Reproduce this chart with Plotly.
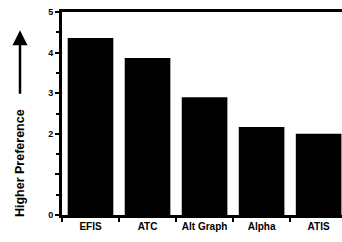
import plotly.graph_objects as go

categories = ["EFIS", "ATC", "Alt Graph", "Alpha", "ATIS"]
preference = [4.36, 3.87, 2.9, 2.17, 2.0]
ytick_vals = [0, 1, 2, 3, 4, 5]
ytick_text = ["0", "", "2", "3", "4", "5"]

fig = go.Figure(go.Bar(x=categories, y=preference, marker_color="black",
                       marker_line_width=0, width=0.8))

fig.update_layout(
    width=342, height=242,
    margin=dict(l=62, r=0, t=12, b=27, pad=0, autoexpand=False),
    plot_bgcolor="white", paper_bgcolor="white",
    showlegend=False,
    font=dict(family="Liberation Sans, Arial", color="black"),
)
fig.update_xaxes(
    range=[-0.5, 4.41], showline=True, linecolor="black", linewidth=3,
    mirror=True, ticks="outside", tickson="boundaries", ticklen=4,
    tickwidth=2, tickcolor="black", automargin=False,
    tickfont=dict(size=10, family="Liberation Sans, Arial", weight="bold"),
    showgrid=False, gridcolor="white",
)
fig.update_yaxes(
    range=[0, 5], showline=True, linecolor="black", linewidth=3,
    tickvals=ytick_vals, ticktext=ytick_text, ticks="outside", ticklen=4,
    tickwidth=2, tickcolor="black",
    tickfont=dict(size=9, weight="bold"), automargin=False,
    minor=dict(dtick=0.5, ticks="outside", ticklen=3, tickcolor="black",
               tickwidth=2, showgrid=False),
    showgrid=False, zeroline=False,
)
fig.add_annotation(text="<b>Higher Preference</b>", textangle=-90,
                   xref="paper", yref="paper", x=-0.15, y=0.256, yanchor="middle",
                   xanchor="center", showarrow=False, font=dict(size=12.5))
fig.add_annotation(xref="paper", yref="paper", x=-0.15, y=0.91,
                   ax=0, ay=65,
                   showarrow=True, arrowhead=2, arrowsize=1.2, arrowwidth=2.5,
                   arrowcolor="black", text="")

fig.write_html("out.html", config={"displayModeBar": False},
               post_script="document.body.style.margin='0';document.body.style.overflow='hidden';")
